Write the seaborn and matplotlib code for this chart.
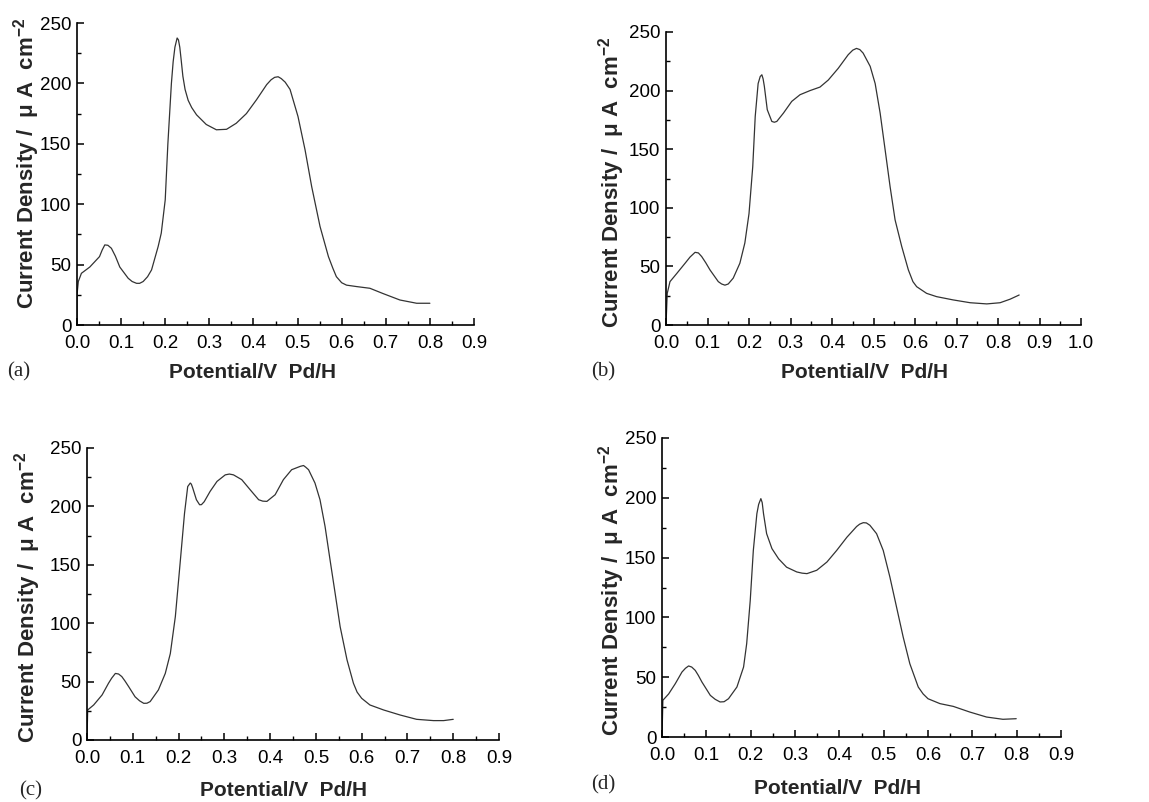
import numpy as np
import pandas as pd
import matplotlib
matplotlib.use("Agg")
import matplotlib.pyplot as plt
from matplotlib.ticker import MultipleLocator, FormatStrFormatter
import seaborn as sns

# ---------------- data ----------------
pot_a = [0.0, 0.0, 0.003, 0.01, 0.029, 0.051, 0.057, 0.063, 0.07, 0.078, 0.087, 0.097, 0.116,
         0.125, 0.135, 0.142, 0.15, 0.16, 0.169, 0.184, 0.191, 0.2, 0.206, 0.214, 0.218, 0.222,
         0.227, 0.23, 0.233, 0.236, 0.24, 0.245, 0.252, 0.26, 0.271, 0.293, 0.316, 0.339,
         0.361, 0.384, 0.407, 0.43, 0.44, 0.448, 0.456, 0.463, 0.472, 0.483, 0.501, 0.517,
         0.532, 0.551, 0.57, 0.58, 0.588, 0.6, 0.611, 0.634, 0.664, 0.694, 0.732, 0.77, 0.8]
cur_a = [0, 25, 36, 42.8, 48, 56.6, 62, 66.3, 66, 63.5, 57, 48, 38.7,
         36, 34.5, 34.5, 36, 40, 45.6, 65, 76, 103.6, 150, 200, 218, 230,
         237.6, 236, 230, 220, 206, 195, 186, 180, 174, 166, 161.6, 162,
         167, 175, 186.5, 199, 203, 205, 205.5, 204, 201, 195, 172.6, 145,
         114.6, 81.5, 56.6, 47, 40, 35, 33, 31.8, 30.4, 26, 20.7, 18, 18]

pot_b = [0.0, 0.003, 0.0096, 0.026, 0.046, 0.058, 0.07, 0.078, 0.086, 0.096, 0.106, 0.126,
         0.134, 0.142, 0.15, 0.162, 0.178, 0.19, 0.2, 0.209, 0.215, 0.222, 0.227, 0.231,
         0.234, 0.237, 0.244, 0.255, 0.261, 0.267, 0.283, 0.303, 0.323, 0.347, 0.371, 0.391,
         0.415, 0.439, 0.45, 0.459, 0.467, 0.475, 0.492, 0.504, 0.516, 0.528, 0.54, 0.552,
         0.568, 0.584, 0.595, 0.604, 0.628, 0.652, 0.692, 0.733, 0.773, 0.805, 0.829, 0.851]
cur_b = [0, 27, 37, 44, 52.7, 58, 62, 61.5, 58.4, 53, 47, 37,
         35, 34, 35, 40, 52.7, 70, 95, 135, 178, 206, 212, 213.5,
         210, 203.6, 183.7, 173.7, 173, 173.7, 180.8, 190.8, 196.5, 200, 203, 209,
         219, 230.6, 234.5, 236, 235, 232, 220.7, 206, 180.8, 149.5, 118, 89.7,
         67, 47, 37, 32.7, 27, 24.2, 21.4, 19, 18, 19, 22, 25.6]

pot_c = [0.0, 0.0015, 0.0146, 0.033, 0.047, 0.054, 0.062, 0.069, 0.076, 0.083, 0.091, 0.105,
         0.115, 0.124, 0.131, 0.138, 0.156, 0.171, 0.182, 0.193, 0.204, 0.213, 0.22, 0.2256,
         0.228, 0.231, 0.239, 0.246, 0.25, 0.256, 0.269, 0.284, 0.302, 0.311, 0.32, 0.338,
         0.357, 0.375, 0.384, 0.393, 0.411, 0.429, 0.447, 0.466, 0.473, 0.478, 0.484, 0.498,
         0.509, 0.52, 0.531, 0.542, 0.553, 0.568, 0.582, 0.59, 0.6, 0.618, 0.648, 0.684,
         0.72, 0.757, 0.779, 0.8]
cur_c = [0, 25.7, 30, 38.6, 48.6, 53, 57, 56.5, 54.3, 50.5, 45.7, 37,
         33.5, 31.4, 31.5, 32.9, 42.9, 57, 74, 105.7, 154, 194, 217, 220,
         219, 215.7, 205.7, 201.4, 201.5, 204, 212.9, 221.4, 227, 227.7, 227, 222.9,
         214, 205.7, 204.5, 204.3, 210, 222.9, 231.4, 234.3, 235, 233.5, 231.4, 220,
         205.7, 182.9, 154, 125.7, 97, 68.6, 48.6, 41, 35.7, 30, 25.7, 21.4,
         17.7, 16.6, 16.6, 17.7]

pot_d = [0.0, 0.002, 0.015, 0.03, 0.045, 0.053, 0.06, 0.067, 0.075, 0.082, 0.09, 0.109,
         0.12, 0.131, 0.14, 0.15, 0.169, 0.184, 0.191, 0.199, 0.206, 0.214, 0.218, 0.223,
         0.226, 0.229, 0.236, 0.248, 0.263, 0.281, 0.304, 0.316, 0.327, 0.349, 0.372, 0.394,
         0.417, 0.439, 0.446, 0.454, 0.461, 0.469, 0.484, 0.499, 0.514, 0.529, 0.544, 0.559,
         0.578, 0.589, 0.6, 0.627, 0.657, 0.694, 0.732, 0.769, 0.799]
cur_d = [0, 30.7, 36, 44.6, 54.3, 57.5, 59.4, 58.5, 55.7, 51.5, 46, 34.8,
         31.5, 29.3, 29.5, 32, 41.8, 58.5, 78, 114, 156, 186.7, 194.5, 199.3,
         196, 186.7, 170, 157.5, 149, 142, 138, 137, 136.6, 139.4, 146.3, 156,
         167, 176, 178, 179.2, 179, 177, 170, 156, 133.8, 108.7, 83.6, 61.3,
         41.8, 36, 32, 27.9, 25.6, 20.9, 16.7, 14.8, 15.3]

panel_tags = ["(a)", "(b)", "(c)", "(d)"]
x_maxes = [0.9, 1.0, 0.9, 0.9]
xlabel_text = "Potential/V  Pd/H"
ylabel_text = r"Current Density /  $\mathregular{\mu}$ A  cm$^{\mathregular{-2}}$"

# ---------------- style ----------------
sns.set_style("ticks")
plt.rcParams["font.family"] = ["Liberation Sans", "DejaVu Sans"]
plt.rcParams["mathtext.fontset"] = "custom"
plt.rcParams["mathtext.rm"] = "Liberation Sans:bold"
plt.rcParams["mathtext.it"] = "Liberation Sans:bold"
plt.rcParams["mathtext.bf"] = "Liberation Sans:bold"

W, H = 1149, 802
fig = plt.figure(figsize=(W / 100, H / 100), dpi=100)
fig.patch.set_facecolor("white")

# axes boxes in pixel coords: left, right, top, bottom
boxes = [(77, 474, 23, 325), (666, 1081, 32, 325), (87, 499, 448, 740), (662, 1061, 438, 737)]
ylabel_pos = [(27, 163), (612, 182), (28, 597), (612, 590)]
xlabel_pos = [(252, 372), (865, 373), (284, 791), (837, 788)]
tag_pos = [(19, 372), (603, 372), (31, 791), (603, 785)]

datasets = [(pot_a, cur_a), (pot_b, cur_b), (pot_c, cur_c), (pot_d, cur_d)]

for i, (px, cy) in enumerate(datasets):
    l, r, t, b = boxes[i]
    ax = fig.add_axes([l / W, 1 - b / H, (r - l) / W, (b - t) / H])
    df = pd.DataFrame({"Potential": px, "Current": cy})
    sns.lineplot(data=df, x="Potential", y="Current", ax=ax, sort=False, estimator=None,
                 color="#333333", linewidth=0.9)
    ax.set_xlim(0, x_maxes[i])
    ax.set_ylim(0, 250)
    ax.xaxis.set_major_locator(MultipleLocator(0.1))
    ax.xaxis.set_minor_locator(MultipleLocator(0.05))
    ax.yaxis.set_major_locator(MultipleLocator(50))
    ax.yaxis.set_minor_locator(MultipleLocator(25))
    ax.xaxis.set_major_formatter(FormatStrFormatter("%.1f"))
    ax.set_xlabel("")
    ax.set_ylabel("")
    for s in ["top", "right"]:
        ax.spines[s].set_visible(False)
    for s in ["left", "bottom"]:
        ax.spines[s].set_linewidth(1.2)
        ax.spines[s].set_color("black")
    ax.tick_params(which="major", direction="in", length=5, width=1.1, labelsize=13.5,
                   colors="black")
    ax.tick_params(axis="x", which="major", pad=7)
    ax.tick_params(axis="y", which="major", pad=4)
    ax.tick_params(which="minor", direction="in", length=3, width=1.0, colors="black")
    ax.set_facecolor("white")

    fig.text(xlabel_pos[i][0] / W, 1 - xlabel_pos[i][1] / H, xlabel_text, fontsize=15,
             fontweight="bold", ha="center", va="center")
    fig.text(ylabel_pos[i][0] / W, 1 - ylabel_pos[i][1] / H, ylabel_text, fontsize=16,
             fontweight="bold", ha="center", va="center", rotation=90)
    fig.text(tag_pos[i][0] / W, 1 - tag_pos[i][1] / H, panel_tags[i], fontsize=15,
             family=["Liberation Serif", "DejaVu Serif"], ha="center", va="center")

fig.savefig("out.png", dpi=100, facecolor="white")
